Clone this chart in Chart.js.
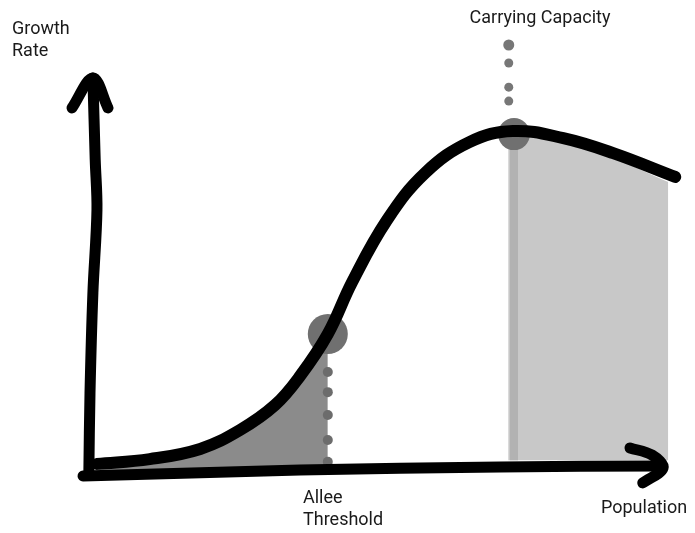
<!DOCTYPE html>
<html>
<head>
<meta charset="utf-8">
<script src="https://cdn.jsdelivr.net/npm/chart.js@4"></script>
<style>
body{margin:0;background:#fff;}
#wrap{width:695px;height:533px;}
</style>
</head>
<body>
<div id="wrap"><canvas id="chart" width="695" height="533"></canvas></div>
<script>

// growth curve (population 0-100, growth rate 0-100)
const curveX = [1.2, 10.3, 19.0, 25.9, 31.9, 36.2, 41.0, 45.2, 51.2, 57.8, 65.5, 72.9, 81.6, 90.2, 100.9]
const curveY = [1.8, 3.2, 6.2, 11.8, 19.1, 27.6, 40.0, 55.3, 73.5, 87.4, 96.5, 99.7, 97.6, 93.2, 86.2]

// thresholds
const alleeX = 41.0
const alleeY = 40.0
const capacityX = 73.1
const capacityY = 98.8

// dotted guides
const alleeDotsY = [28.8, 22.9, 16.2, 8.8, 2.4]
const capacityDotsX = 72.2
const capacityDotsY = [125, 119.7, 112.6, 108.5]

// shaded area past carrying capacity
const capFillX = [72.1, 81.6, 90.2, 99.7]
const capFillY = [98.5, 96.5, 91.8, 84.7]
const capFillBase = 2.9

// hand drawn axes
const yAxisX = [-0.2, 0, 0.5, 1.2, 0.9, 0.5]
const yAxisY = [-0.9, 22.6, 52.1, 76.5, 91.2, 115.3]
const yArrowX = [-3.1, 0.5, 3.1]
const yArrowY = [106.5, 115.3, 106.5]
const xAxisX = [-1.2, 36.2, 70.7, 98.6]
const xAxisY = [-1.8, 0, 0.9, 1.2]
const xArrowX = [93.1, 96.9, 98.8, 95.3]
const xArrowY = [6.5, 4.4, 0.6, -3.8]

function pts(xs, ys){
return xs.map((x,i)=>({x:x, y:ys[i]}))
}

const curve = pts(curveX, curveY)
const alleeFill = curve.filter(p=>p.x<=alleeX)

const labels = {
id:"labels",
afterDraw(chart){
const ctx = chart.ctx
ctx.save()
ctx.fillStyle = "#1a1a1a"
ctx.font = "18px Roboto"
ctx.textAlign = "left"
ctx.fillText("Growth", 12, 34)
ctx.fillText("Rate", 12, 56)
ctx.textAlign = "center"
ctx.fillText("Carrying Capacity", 540, 23)
ctx.textAlign = "left"
ctx.fillText("Allee", 303, 503)
ctx.fillText("Threshold", 303, 525)
ctx.fillText("Population", 601, 513)
ctx.restore()
}
}

const stroke = {showLine:true, borderColor:"#000", borderWidth:11, pointRadius:0,
borderCapStyle:"round", borderJoinStyle:"round", tension:0.35, order:0}

new Chart(document.getElementById("chart"),{

type:"scatter",

data:{
datasets:[
Object.assign({data:pts(yAxisX, yAxisY)}, stroke),
Object.assign({data:pts(yArrowX, yArrowY)}, stroke),
Object.assign({data:pts(xAxisX, xAxisY)}, stroke),
Object.assign({data:pts(xArrowX, xArrowY)}, stroke),
{
data:curve,
showLine:true, borderColor:"#000", borderWidth:12, pointRadius:0,
borderCapStyle:"round", borderJoinStyle:"round",
tension:0.4, order:1
},
{
data:[{x:alleeX, y:alleeY}],
pointRadius:20, pointBackgroundColor:"#707070", pointBorderWidth:0, order:2
},
{
data:[{x:capacityX, y:capacityY}],
pointRadius:16, pointBackgroundColor:"#707070", pointBorderWidth:0, order:2
},
{
data:alleeDotsY.map(y=>({x:alleeX, y:y})),
pointRadius:5, pointBackgroundColor:"#6c6c6c", pointBorderWidth:0, order:3
},
{
data:capacityDotsY.map(y=>({x:capacityDotsX, y:y})),
pointRadius:[5.5,4.5,4.5,4.5], pointBackgroundColor:"#777", pointBorderWidth:0, order:3
},
{
data:[{x:capacityX, y:capFillBase}, {x:capacityX, y:capacityY}],
showLine:true, borderColor:"#b2b2b2", borderWidth:8, pointRadius:0, order:4
},
{
data:alleeFill,
showLine:true, borderWidth:0, borderColor:"rgba(0,0,0,0)", pointRadius:0,
tension:0.4,
fill:"origin", backgroundColor:"#8b8b8b", order:5
},
{
data:pts(capFillX, capFillY),
showLine:true, borderWidth:0, borderColor:"rgba(0,0,0,0)", pointRadius:0,
tension:0.3,
fill:{value:capFillBase}, backgroundColor:"#c8c8c8", order:5
}
]
},

options:{
responsive:false,
animation:false,
events:[],
clip:false,
layout:{padding:{left:90, right:25, top:28, bottom:63}},
plugins:{legend:{display:false}, tooltip:{enabled:false}},
scales:{
x:{type:"linear", min:0, max:100, display:false},
y:{type:"linear", min:0, max:130, display:false}
}
},

plugins:[labels]

})

</script>
</body>
</html>
